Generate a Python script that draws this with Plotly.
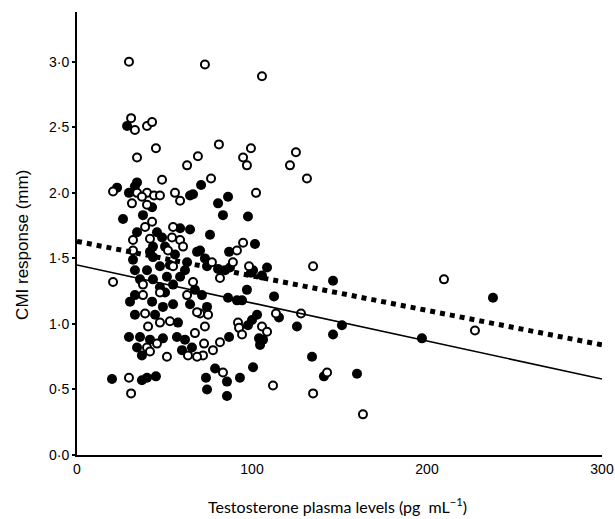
import plotly.graph_objects as go

# Open circles (group 1)
open_x = [29.7, 73.1, 105.7, 30.9, 33.1, 40.0, 42.9, 34.3, 45.1, 62.9, 69.1, 81.1, 99.4, 94.9, 97.1,
          125.1, 121.7, 131.4, 76.6, 102.3, 48.6, 20.6, 34.3, 40.0, 44.0, 47.4, 56.0, 58.9, 31.4, 37.1,
          40.0, 42.9, 38.9, 54.9, 32.0, 41.7, 54.3, 58.9, 52.0, 32.0, 60.6, 20.6, 54.9, 66.3, 37.7,
          94.9, 91.4, 77.1, 89.1, 81.7, 98.3, 134.9, 74.9, 70.3, 73.1, 113.7, 128.0, 92.0, 92.6, 94.3,
          105.7, 108.6, 81.7, 77.7, 72.6, 72.0, 83.4, 112.0, 134.9, 37.7, 47.4, 62.9, 68.6, 38.9, 53.1,
          40.6, 47.4, 45.7, 40.0, 41.7, 51.4, 63.4, 68.6, 67.4, 29.7, 30.9, 209.7, 227.4, 142.9, 163.4]
open_y = [3.00, 2.98, 2.89, 2.57, 2.48, 2.51, 2.54, 2.27, 2.34, 2.21, 2.28, 2.37, 2.34, 2.27, 2.21,
          2.31, 2.21, 2.11, 2.11, 2.00, 2.10, 2.01, 2.00, 2.00, 1.98, 1.98, 2.00, 1.94, 1.92, 1.97,
          1.91, 1.78, 1.74, 1.74, 1.64, 1.65, 1.66, 1.64, 1.56, 1.56, 1.59, 1.32, 1.44, 1.32, 1.30,
          1.62, 1.56, 1.47, 1.47, 1.35, 1.44, 1.44, 1.07, 1.08, 0.98, 1.08, 1.08, 1.01, 0.97, 0.92,
          0.98, 0.94, 0.86, 0.80, 0.85, 0.76, 0.63, 0.53, 0.47, 1.22, 1.24, 1.22, 1.09, 1.08, 1.02,
          0.98, 1.01, 0.85, 0.82, 0.79, 0.75, 0.76, 0.75, 0.93, 0.59, 0.47, 1.34, 0.95, 0.63, 0.31]

# Filled circles (group 2)
filled_x = [28.6, 70.9, 86.3, 80.6, 83.4, 97.7, 76.0, 34.3, 33.1, 22.9, 29.7, 64.6, 42.9, 26.3, 37.7,
            34.3, 45.7, 58.9, 64.6, 48.6, 50.3, 43.4, 41.7, 68.6, 32.0, 43.4, 62.9, 33.1, 40.0, 47.4,
            36.0, 43.4, 51.4, 58.9, 47.4, 54.9, 101.7, 86.9, 70.3, 73.1, 74.3, 87.4, 84.6, 80.6, 100.6,
            108.6, 105.7, 99.4, 97.1, 71.4, 86.3, 91.4, 94.3, 112.6, 74.3, 115.4, 102.9, 100.0, 97.7, 125.7,
            86.9, 104.0, 106.3, 104.6, 134.3, 100.6, 78.9, 73.7, 85.7, 93.1, 74.3, 85.7, 30.3, 33.1, 42.9,
            49.1, 54.9, 33.1, 44.6, 57.7, 29.7, 36.0, 41.7, 49.1, 34.3, 37.1, 57.1, 61.7, 60.0, 65.7,
            20.0, 37.1, 40.0, 45.1, 146.3, 237.7, 151.4, 146.3, 197.1, 160.0, 141.1, 66.3,
            56.0, 61.7, 67.4, 50.3, 64.6, 53.1]
filled_y = [2.51, 2.06, 1.97, 1.92, 1.83, 1.82, 1.68, 2.08, 2.05, 2.04, 2.00, 1.98, 1.89, 1.80, 1.83,
            1.70, 1.70, 1.73, 1.72, 1.66, 1.59, 1.59, 1.55, 1.55, 1.49, 1.51, 1.47, 1.41, 1.41, 1.44,
            1.34, 1.34, 1.36, 1.36, 1.28, 1.30, 1.61, 1.55, 1.56, 1.50, 1.44, 1.43, 1.41, 1.42, 1.41,
            1.43, 1.37, 1.39, 1.26, 1.22, 1.20, 1.18, 1.18, 1.21, 1.13, 1.05, 1.07, 1.03, 0.99, 0.98,
            0.90, 0.89, 0.88, 0.84, 0.75, 0.67, 0.66, 0.59, 0.56, 0.59, 0.50, 0.45, 1.17, 1.22, 1.17,
            1.13, 1.15, 1.07, 1.07, 1.01, 0.90, 0.90, 0.88, 0.89, 0.82, 0.76, 0.90, 0.88, 0.80, 0.82,
            0.58, 0.57, 0.59, 0.60, 1.33, 1.20, 0.99, 0.92, 0.89, 0.62, 0.60, 1.99,
            1.53, 1.41, 1.26, 1.24, 1.15, 1.45]

# Regression lines (end points)
line_x = [0, 300]
solid_y = [1.45, 0.58]
dashed_y = [1.63, 0.84]

y_tickvals = [0, 0.5, 1.0, 1.5, 2.0, 2.5, 3.0]
y_ticktext = ["0·0", "0·5", "1·0", "1·5", "2·0", "2·5", "3·0"]
x_tickvals = [0, 100, 200, 300]

x_title = "Testosterone plasma levels (pg  mL<sup>−1</sup>)"
y_title = "CMI response (mm)"

fig = go.Figure()
fig.add_trace(go.Scatter(x=filled_x, y=filled_y, mode="markers",
                         marker=dict(size=10, color="black", line=dict(width=0)),
                         cliponaxis=False, showlegend=False))
fig.add_trace(go.Scatter(x=open_x, y=open_y, mode="markers",
                         marker=dict(size=8, color="white", line=dict(width=2, color="black")),
                         cliponaxis=False, showlegend=False))
fig.add_trace(go.Scatter(x=line_x, y=solid_y, mode="lines",
                         line=dict(color="black", width=1.6), showlegend=False))
fig.add_trace(go.Scatter(x=line_x, y=dashed_y, mode="lines",
                         line=dict(color="black", width=5, dash="5px,5px"), showlegend=False))

fig.update_layout(
    width=615, height=519,
    margin=dict(l=77, r=13, t=12, b=64),
    paper_bgcolor="white", plot_bgcolor="white",
    font=dict(family="Liberation Sans, Arial", color="black"),
    xaxis=dict(range=[0, 300], tickvals=x_tickvals, showgrid=False, zeroline=False,
               showline=True, linecolor="black", linewidth=2, ticks="", automargin=False,
               ticklabeloverflow="allow",
               tickfont=dict(size=14, family="Liberation Sans, Arial")),
    yaxis=dict(range=[0, 3.38], tickvals=y_tickvals, ticktext=y_ticktext, showgrid=False,
               zeroline=False, showline=True, linecolor="black", linewidth=2, automargin=False,
               ticks="outside", ticklen=3, tickwidth=2, tickcolor="black",
               tickfont=dict(size=14, family="Liberation Sans, Arial")),
    annotations=[
        dict(text=x_title, xref="paper", yref="paper", x=0.497, y=-0.113,
             xanchor="center", yanchor="middle", showarrow=False,
             font=dict(size=16, family="Lato, Open Sans")),
        dict(text=y_title, xref="paper", yref="paper", x=-0.105, y=0.474,
             xanchor="center", yanchor="middle", showarrow=False, textangle=-90,
             font=dict(size=17, family="Liberation Sans, Arial")),
    ],
)

# Remove the default page margin so the 615x519 figure fills the window exactly.
fig.write_html("out.html", config={"displayModeBar": False},
               post_script="document.body.style.margin='0';document.body.style.overflow='hidden';")
